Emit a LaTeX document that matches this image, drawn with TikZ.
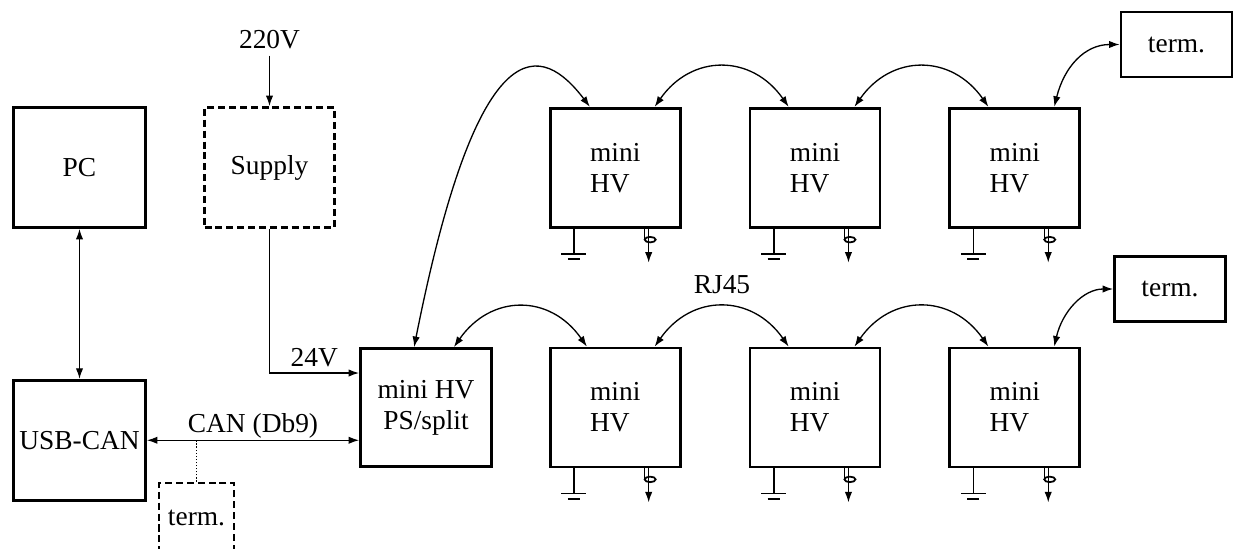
\documentclass[tikz,border=0pt]{standalone}
\usepackage{fontspec}
\setmainfont{Liberation Serif}
\usetikzlibrary{positioning, arrows.meta}

\begin{document}
\begin{tikzpicture}[
    x=0.02cm, y=0.02cm,
    font=\fontsize{15.6}{17.6}\selectfont,
    box/.style={draw, rectangle, line width=1.6pt, minimum width=2.64cm, minimum height=2.4cm, align=center},
    hvbox/.style={box, minimum width=2.6cm, minimum height=2.38cm, align=left},
    dashbox/.style={box, dash pattern=on 4pt off 2.2pt},
    termbox/.style={box, minimum width=2.22cm, minimum height=1.3cm},
    wire/.style={line width=0.75pt},
    arrow/.style={wire, -{Latex[length=6pt,width=4.2pt]}},
    both/.style={wire, {Latex[length=6pt,width=4.2pt]}-{Latex[length=6pt,width=4.2pt]}}
]
    \useasboundingbox (0,0) rectangle (1233,-548);

    \node[box] (pc) at (79.5,-167.5) {PC};
    \node[box, below=3.0cm of pc] (usbcan) {USB-CAN};
    \node[dashbox, minimum width=2.6cm] (supply) at (269.5,-167.5) {Supply};
    \node (v220) at (269.5,-40) {220V};
    \node[box, minimum width=2.62cm, minimum height=2.36cm] (hvps) at (426,-407.5) {mini HV\\PS/split};
    \node[hvbox, right=1.12cm of hvps] (b1) {mini\\HV};
    \node[hvbox, right=1.34cm of b1] (b2) {mini\\HV};
    \node[hvbox, right=1.34cm of b2] (b3) {mini\\HV};
    \node[hvbox, above=2.36cm of b1] (t1) {mini\\HV};
    \node[hvbox, above=2.36cm of b2] (t2) {mini\\HV};
    \node[hvbox, above=2.36cm of b3] (t3) {mini\\HV};
    \node[termbox] (terma) at (1176.5,-44.5) {term.};
    \node[termbox] (termb) at (1170,-289) {term.};
    \node[dashbox, minimum width=1.5cm, minimum height=1.4cm] (termc) at (196.5,-518) {term.};
    \node (rj45) at (722,-285) {RJ45};

    \draw[arrow] (v220) -- (supply);
    \draw[both] (pc) -- (usbcan);
    \draw[arrow] (supply.south) |- node[pos=0.75, above] {24V} ([yshift=0.69cm]hvps.west);
    \draw[both] (usbcan.east) -- node[above, inner sep=1pt] {CAN (Db9)} (usbcan.east -| hvps.west);
    \draw[wire, densely dotted, line width=1pt] (termc.north) -- (termc.north |- usbcan.east);

    \draw[both] ([xshift=1.1cm]hvps.north west) .. controls +(65,328) and +(-47,62) .. ([xshift=0.82cm]t1.north west);
    \draw[both] ([xshift=-0.78cm]hvps.north east) .. controls +(37,53) and +(-37,53) .. ([xshift=0.76cm]b1.north west);
    \foreach \a/\b in {t1/t2, t2/t3, b1/b2, b2/b3}
        \draw[both] ([xshift=-0.54cm]\a.north east) .. controls +(37,53) and +(-37,53) .. ([xshift=0.8cm]\b.north west);
    \draw[both] ([xshift=-0.54cm]t3.north east) .. controls +(10,40) and +(-35,0) .. (terma.west);
    \draw[both] ([xshift=-0.54cm]b3.north east) .. controls +(8,35) and +(-30,0) .. (termb.west);

    \foreach \n in {t1,t2,t3,b1,b2,b3} {
        \draw[wire, line width=1pt] ([xshift=0.5cm]\n.south west) -- ++(0,-25) ++(-12.5,0) -- ++(25,0) ++(-18.5,-5.5) -- ++(12,0);
        \draw[wire] ([xshift=-0.74cm]\n.south east) -- ++(0,-11);
        \draw[wire, line width=1pt] ([xshift=-0.63cm,yshift=-0.22cm]\n.south east) ellipse [x radius=0.11cm, y radius=0.055cm];
        \draw[arrow] ([xshift=-0.66cm]\n.south east) -- ++(0,-34);
    }
\end{tikzpicture}
\end{document}
